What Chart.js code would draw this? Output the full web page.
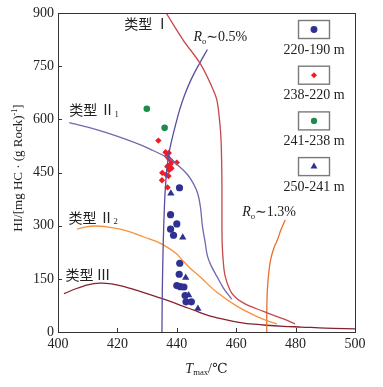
<!DOCTYPE html>
<html><head><meta charset="utf-8">
<script src="https://cdn.jsdelivr.net/npm/chart.js@4.4.1/dist/chart.umd.min.js"></script>
<style>html,body{margin:0;padding:0;background:#fff}#w{width:383px;height:387px}</style>
</head><body><div id="w"><canvas id="c" width="383" height="387"></canvas></div>
<script>
// ---- data ----
const typeI = [[436.4,900],[442.2,823],[447.9,757],[451.8,692],[453.5,654],[454.6,579],[454.9,541],[455.1,480],[455.2,400],[455.2,300],[455.3,246],[455.6,204],[456.3,157],[458.5,110],[462.4,82],[469.2,58],[475.9,37],[479.8,23]];
const ro05 = [[450.3,797],[447.6,757],[444.8,712],[442.6,668],[441,628],[439.6,585],[438.4,545],[437.5,510],[436.8,470],[436.1,400],[435.6,300],[435.3,200],[435.1,100],[435,0]];
const typeII1 = [[403.8,591],[410,578],[416,563],[422,546],[428,527],[432,512],[435,500],[438,487],[441,466],[443.5,445],[445.5,420],[447,392],[448,350],[448.6,300],[449.5,255],[450.3,215],[451.5,188],[453.5,157],[455.7,124],[458.5,93]];
const typeII2 = [[406.4,290],[409,296],[412.5,299],[417,296],[421,290],[425.4,279],[429,268],[433.3,255],[437,238],[440,220],[441.7,204],[444.5,180],[447.9,155],[453.5,112],[460.2,73],[466.9,44],[470.3,32],[473.7,23]];
const ro13 = [[470.3,0],[470.3,60],[470.5,120],[471,170],[471.6,204],[472.6,235],[473.9,260],[475,287],[476.5,316]];
const typeIII = [[402,108],[406,122],[410,133],[414,138],[418,136],[422,129],[426,119],[430,108],[434,97],[438,86],[442,73],[446,61],[450,48],[454,39],[458,32],[462,26],[466,22],[470,19],[476,16],[482,14],[490,11],[500,9]];

const seriesNames = ['220-190 m','238-220 m','241-238 m','250-241 m'];
const s220_190 = [[440.9,407],[437.9,331],[440,305],[437.9,290],[438.9,273],[441,194],[440.8,163],[440,131],[441.2,128],[442.4,127],[442.8,103],[443.1,85],[444.9,85]];
const s238_220 = [[433.8,540],[436.2,507],[437.3,505],[436.7,495],[437.6,487],[438.4,480],[440,478],[437.8,473],[436.8,467],[438.2,462],[437.4,457],[435.1,449],[436.4,444],[437.2,440],[435,428],[436.9,408]];
const s241_238 = [[429.9,630],[435.9,576]];
const s250_241 = [[438,391],[442,267],[443,153],[444,104],[447.1,66]];

const xTicks = [400,420,440,460,480,500];
const yTicks = [0,150,300,450,600,750,900];

const curveLabels = [
  {x:422.3,y:871,parts:[{t:'类型 Ⅰ',cjk:1}]},
  {x:445.6,y:832,parts:[{t:'R',it:1},{t:'o',sub:1},{t:'∼0.5%'}]},
  {x:403.8,y:626,parts:[{t:'类型 Ⅱ',cjk:1},{t:'1',sub:1}]},
  {x:403.5,y:322,parts:[{t:'类型 Ⅱ',cjk:1},{t:'2',sub:1}]},
  {x:462,y:338,parts:[{t:'R',it:1},{t:'o',sub:1},{t:'∼1.3%'}]},
  {x:402.5,y:161,parts:[{t:'类型 Ⅲ',cjk:1}]}
];

const pts = a => a.map(p => ({x:p[0], y:p[1]}));
const SERIF = '"Liberation Serif","DejaVu Serif",serif';
const CJK = '"Noto Sans CJK SC",sans-serif';

function curve(d, color){
  return {type:'scatter', data:pts(d), showLine:true, borderColor:color, borderWidth:1.3, pointRadius:0, tension:0.35, fill:false};
}
function marks(d, color, style, r){
  return {type:'scatter', data:pts(d), showLine:false, backgroundColor:color, borderColor:color, borderWidth:0, pointStyle:style, pointRadius:r};
}

const datasets = [
  curve(typeI,'#c8474a'),
  curve(ro05,'#5b4d9d'),
  curve(typeII1,'#7565b0'),
  curve(typeII2,'#f7923a'),
  curve(ro13,'#e8702e'),
  curve(typeIII,'#86222f'),
  marks(s238_220,'#ee1c25','rectRot',3.2),
  marks(s241_238,'#1e8a4c','circle',3.3),
  marks(s220_190,'#2e3192','circle',3.6),
  marks(s250_241,'#2e3192','triangle',4.2)
];
const legendDs = [8,6,7,9];

function drawParts(ctx, x, y, parts, size){
  let cx = x;
  for(const p of parts){
    let fs = p.sub||p.sup ? size*0.62 : size;
    ctx.font = (p.it?'italic ':'') + fs + 'px ' + (p.cjk?CJK:SERIF);
    let dy = p.sub ? size*0.3 : (p.sup ? -size*0.35 : 0);
    ctx.fillText(p.t, cx, y+dy);
    cx += ctx.measureText(p.t).width;
  }
  return cx - x;
}
function measureParts(ctx, parts, size){
  let w=0;
  for(const p of parts){
    let fs = p.sub||p.sup ? size*0.62 : size;
    ctx.font = (p.it?'italic ':'') + fs + 'px ' + (p.cjk?CJK:SERIF);
    w += ctx.measureText(p.t).width;
  }
  return w;
}

const deco = {
  id:'deco',
  afterDraw(chart){
    const ctx = chart.ctx, a = chart.chartArea, xs = chart.scales.x, ys = chart.scales.y;
    ctx.save();
    ctx.strokeStyle = '#333'; ctx.lineWidth = 1;
    ctx.strokeRect(Math.round(a.left)+0.5, Math.round(a.top)+0.5, Math.round(a.right-a.left), Math.round(a.bottom-a.top));
    ctx.beginPath();
    for(const v of xTicks){ const px = Math.round(xs.getPixelForValue(v))+0.5; ctx.moveTo(px,a.bottom); ctx.lineTo(px,a.bottom-4); }
    for(const v of yTicks){ const py = Math.round(ys.getPixelForValue(v))+0.5; ctx.moveTo(a.left,py); ctx.lineTo(a.left+4,py); }
    ctx.stroke();
    // curve labels
    ctx.fillStyle = '#222'; ctx.textBaseline = 'middle'; ctx.textAlign = 'left';
    for(const l of curveLabels){
      drawParts(ctx, xs.getPixelForValue(l.x), ys.getPixelForValue(l.y), l.parts, 14);
    }
    // legend
    for(let i=0;i<legendDs.length;i++){
      const ds = chart.data.datasets[legendDs[i]];
      const bx = 298, by = 20 + i*45.7, bw = 31, bh = 18;
      ctx.strokeStyle = '#7a7a7a'; ctx.lineWidth = 1.4;
      ctx.strokeRect(bx+0.5, by+0.5, bw, bh);
      ctx.fillStyle = ds.backgroundColor;
      Chart.helpers.drawPoint(ctx, {pointStyle: ds.pointStyle, radius: ds.pointRadius*0.95, borderWidth:0}, bx+bw/2+0.5, by+bh/2+0.5);
      ctx.fillStyle = '#222'; ctx.textAlign = 'center'; ctx.font = '14px ' + SERIF;
      ctx.fillText(seriesNames[i], bx+bw/2+0.5, by+bh+12);
    }
    // x title
    const xt = [{t:'T',it:1},{t:'max',sub:1},{t:'/℃'}];
    ctx.textAlign = 'left';
    const w = measureParts(ctx, xt, 14);
    drawParts(ctx, (a.left+a.right)/2 - w/2, 369, xt, 14);
    // y title
    const yt = [{t:'HI/[mg HC · (g Rock)'},{t:'-1',sup:1},{t:']'}];
    ctx.translate(19, 168); ctx.rotate(-Math.PI/2);
    const w2 = measureParts(ctx, yt, 13);
    drawParts(ctx, -w2/2, 0, yt, 13);
    ctx.restore();
  }
};

new Chart(document.getElementById('c'), {
  type:'scatter',
  data:{datasets},
  options:{
    responsive:false, animation:false, devicePixelRatio:1,
    layout:{padding:{top:13,right:28,left:0,bottom:0}},
    plugins:{legend:{display:false}, tooltip:{enabled:false}},
    scales:{
      x:{type:'linear', min:400, max:500, afterFit:s=>{s.height=55;},
         grid:{display:false, drawTicks:false}, border:{display:false},
         afterBuildTicks:s=>{s.ticks = xTicks.map(v=>({value:v}));},
         ticks:{color:'#222', padding:4, maxRotation:0, font:{family:SERIF,size:14}}},
      y:{type:'linear', min:0, max:900, afterFit:s=>{s.width=58;},
         grid:{display:false, drawTicks:false}, border:{display:false},
         afterBuildTicks:s=>{s.ticks = yTicks.map(v=>({value:v}));},
         ticks:{color:'#222', padding:4, font:{family:SERIF,size:14}}}
    }
  },
  plugins:[deco]
});
</script></body></html>
